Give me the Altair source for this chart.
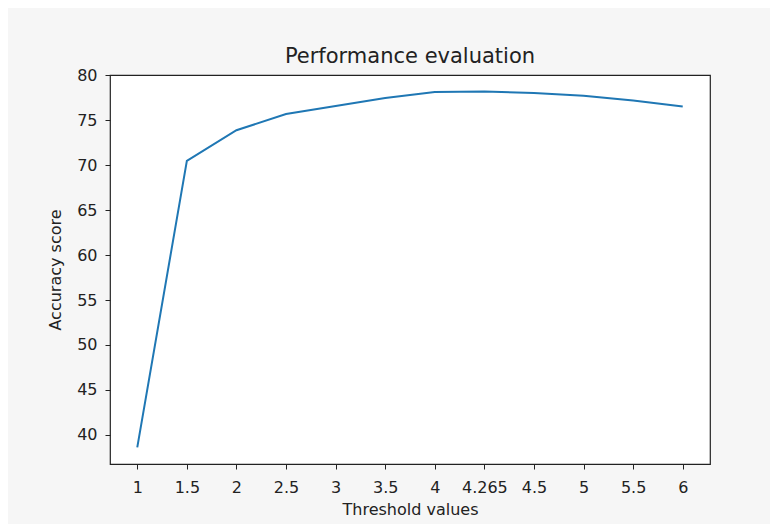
import altair as alt
import pandas as pd

threshold_labels = ["1", "1.5", "2", "2.5", "3", "3.5", "4", "4.265", "4.5", "5", "5.5", "6"]
accuracy = [38.6, 70.5, 73.9, 75.7, 76.6, 77.5, 78.15, 78.2, 78.05, 77.75, 77.2, 76.55]
y_ticks = [40, 45, 50, 55, 60, 65, 70, 75, 80]

df = pd.DataFrame({"threshold": threshold_labels, "accuracy": accuracy})

FONT = "DejaVu Sans"

chart = (
    alt.Chart(df)
    .mark_line(color="#1f77b4", strokeWidth=2)
    .encode(
        x=alt.X(
            "threshold:O",
            sort=threshold_labels,
            scale=alt.Scale(type="point", padding=0.55),
            axis=alt.Axis(
                title="Threshold values",
                labelAngle=0,
                tickSize=5,
                labelPadding=10,
                titlePadding=6,
                domain=False,
            ),
        ),
        y=alt.Y(
            "accuracy:Q",
            scale=alt.Scale(domain=[36.75, 80.05], nice=False, zero=False),
            axis=alt.Axis(
                title="Accuracy score",
                values=y_ticks,
                tickSize=5,
                labelPadding=8,
                titlePadding=13,
                domain=False,
                grid=False,
            ),
        ),
    )
    .properties(
        width=600,
        height=389,
        title=alt.Title("Performance evaluation", fontSize=21, font=FONT,
                        fontWeight="normal", color="#222222", offset=0),
        autosize=alt.AutoSizeParams(type="none"),
        padding={"left": 102, "top": 67, "right": 60, "bottom": 60},
        background="#f6f6f6",
    )
    .configure_view(stroke="#222222", strokeWidth=1.2, fill="white")
    .configure_axis(
        labelFont=FONT,
        titleFont=FONT,
        labelFontSize=16,
        titleFontSize=16,
        titleFontWeight="normal",
        labelColor="#222222",
        titleColor="#222222",
        tickColor="#222222",
        grid=False,
    )
)

chart.save("out.html", embed_options={"renderer": "svg", "actions": False})
